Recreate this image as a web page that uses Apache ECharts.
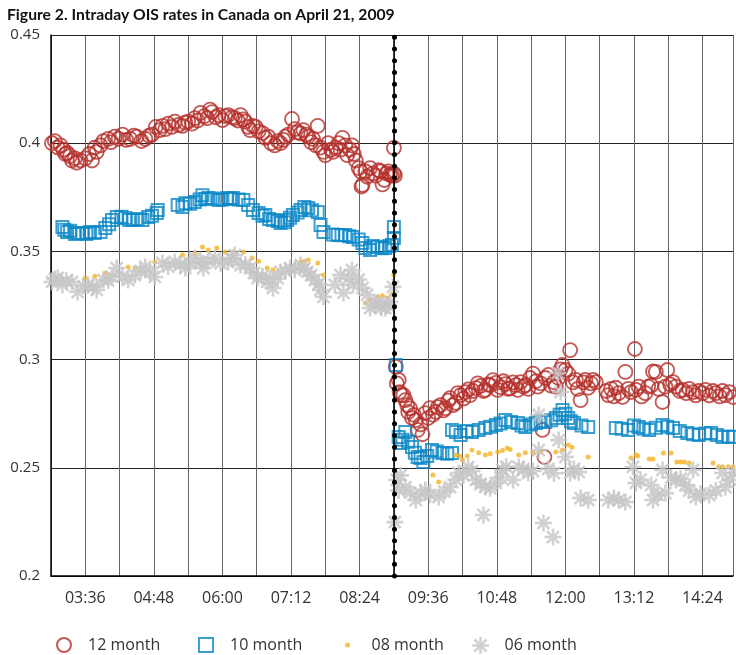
<!DOCTYPE html>
<html>
<head>
<meta charset="utf-8">
<title>Intraday OIS rates</title>
<script src="https://cdn.jsdelivr.net/npm/echarts@6/dist/echarts.min.js"></script>
<style>
  html, body { margin: 0; padding: 0; background: #fff; }
  #chart { width: 736px; height: 655px; }
</style>
</head>
<body>
<div id="chart"></div>
<script>
// time of quote, rate (%)
var month12 = [
  ['03:01',0.400],['03:04',0.401],['03:07',0.398],['03:10',0.399],['03:13',0.397],['03:15',0.395],
  ['03:17',0.3955],['03:20',0.394],['03:22',0.392],['03:25',0.393],['03:27',0.391],['03:31',0.392],
  ['03:36',0.393],['03:40',0.395],['03:43',0.392],['03:46',0.398],['03:48',0.396],['03:52',0.399],
  ['03:55',0.401],['04:00',0.402],['04:03',0.4005],['04:07',0.403],['04:11',0.402],['04:15',0.404],
  ['04:19',0.4015],['04:23',0.402],['04:27',0.4035],['04:30',0.403],['04:35',0.401],['04:39',0.402],
  ['04:43',0.4035],['04:46',0.404],['04:50',0.4075],['04:54',0.406],['04:57',0.408],['05:00',0.4065],
  ['05:03',0.409],['05:07',0.4075],['05:10',0.410],['05:14',0.4085],['05:18',0.408],['05:21',0.4095],
  ['05:24',0.410],['05:28',0.409],['05:31',0.4116],['05:34',0.4105],['05:37',0.414],['05:41',0.4125],
  ['05:44',0.4116],['05:47',0.4155],['05:49',0.4144],['05:53',0.412],['05:56',0.413],['06:00',0.4107],
  ['06:03',0.4125],['06:06',0.413],['06:10',0.412],['06:13',0.4116],['06:16',0.4105],['06:19',0.413],
  ['06:22',0.411],['06:24',0.410],['06:27',0.4075],['06:29',0.406],['06:32',0.408],['06:35',0.4075],
  ['06:38',0.4055],['06:42',0.4047],['06:45',0.4025],['06:48',0.403],['06:51',0.400],['06:55',0.399],
  ['06:58',0.401],['07:01',0.400],['07:04',0.4015],['07:06',0.403],['07:09',0.404],['07:13',0.4112],
  ['07:16',0.4065],['07:19',0.405],['07:22',0.4045],['07:25',0.406],['07:28',0.404],['07:30',0.403],
  ['07:33',0.4005],['07:35',0.402],['07:38',0.399],['07:40',0.408],['07:43',0.398],['07:46',0.396],
  ['07:48',0.3945],['07:51',0.400],['07:54',0.397],['07:56',0.396],['07:59',0.398],['08:02',0.400],
  ['08:04',0.397],['08:06',0.4025],['08:09',0.399],['08:11',0.3945],['08:14',0.397],['08:16',0.399],
  ['08:18',0.395],['08:20',0.392],['08:23',0.3885],['08:25',0.387],['08:26',0.380],['08:27',0.3807],
  ['08:30',0.387],['08:32',0.3845],['08:35',0.3885],['08:38',0.386],['08:41',0.385],['08:44',0.3875],
  ['08:46',0.387],['08:48',0.381],['08:50',0.383],['08:52',0.386],['08:54',0.387],['08:56',0.3855],
  ['08:58',0.385],['09:00',0.3978],['09:00',0.386],['09:01',0.385],
  ['09:02',0.2966],['09:03',0.289],['09:05',0.2906],['09:06',0.285],['09:08',0.2836],['09:10',0.2836],
  ['09:12',0.2813],['09:14',0.279],['09:15',0.2758],['09:17',0.2775],['09:19',0.273],['09:21',0.2745],
  ['09:23',0.272],['09:25',0.2675],['09:28',0.270],['09:30',0.2655],['09:33',0.2753],['09:36',0.273],
  ['09:38',0.2776],['09:41',0.2745],['09:44',0.2758],['09:46',0.278],['09:49',0.279],['09:52',0.2765],
  ['09:54',0.2776],['09:57',0.281],['09:59',0.2822],['10:02',0.279],['10:05',0.280],['10:07',0.2845],
  ['10:10',0.2836],['10:13',0.282],['10:15',0.285],['10:18',0.2862],['10:20',0.2836],['10:23',0.2855],
  ['10:26',0.2868],['10:28',0.289],['10:31',0.2878],['10:34',0.2855],['10:36',0.286],['10:39',0.2885],
  ['10:41',0.2882],['10:44',0.2905],['10:47',0.2892],['10:49',0.286],['10:52',0.2873],['10:55',0.290],
  ['10:57',0.2887],['11:00',0.2865],['11:02',0.2868],['11:05',0.2895],['11:08',0.2882],['11:10',0.286],
  ['11:13',0.2896],['11:16',0.2875],['11:18',0.2882],['11:21',0.2865],['11:23',0.2915],['11:26',0.2935],
  ['11:29',0.290],['11:31',0.2875],['11:34',0.289],['11:36',0.2675],['11:38',0.255],['11:39',0.2915],
  ['11:42',0.2929],['11:45',0.288],['11:48',0.2896],['11:50',0.2875],['11:53',0.2915],['11:55',0.2955],
  ['11:57',0.2975],['12:00',0.2952],['12:03',0.2935],['12:05',0.3044],['12:08',0.2895],['12:11',0.2906],
  ['12:13',0.2865],['12:16',0.2813],['12:19',0.2895],['12:21',0.2906],['12:24',0.287],['12:27',0.289],
  ['12:29',0.2906],['12:32',0.2896],['12:43',0.2855],['12:45',0.2836],['12:48',0.2865],['12:51',0.283],
  ['12:53',0.287],['12:56',0.2845],['13:00',0.2827],['13:03',0.2943],['13:06',0.2865],['13:09',0.285],
  ['13:13',0.3049],['13:14',0.286],['13:17',0.2875],['13:20',0.283],['13:24',0.2845],['13:27',0.2875],
  ['13:30',0.288],['13:32',0.2945],['13:35',0.2943],['13:38',0.2865],['13:42',0.2804],['13:45',0.2875],
  ['13:47',0.2952],['13:50',0.2885],['13:53',0.2896],['13:56',0.2875],['14:00',0.2855],['14:03',0.286],
  ['14:07',0.2845],['14:10',0.2865],['14:14',0.285],['14:17',0.2835],['14:20',0.2855],['14:24',0.2845],
  ['14:27',0.286],['14:31',0.2835],['14:35',0.2855],['14:38',0.2845],['14:42',0.283],['14:45',0.2855],
  ['14:48',0.2836],['14:52',0.285],['14:56',0.2827]
];

var month10 = [
  ['03:12',0.3613],['03:14',0.360],['03:17',0.359],['03:20',0.3595],['03:25',0.358],['03:28',0.3585],
  ['03:33',0.3585],['03:37',0.358],['03:41',0.359],['03:46',0.3585],['03:52',0.359],['03:57',0.3608],
  ['04:01',0.3625],['04:04',0.3645],['04:09',0.3659],['04:14',0.366],['04:18',0.3654],['04:22',0.3645],
  ['04:26',0.3645],['04:31',0.365],['04:36',0.3645],['04:42',0.3659],['04:46',0.3665],['04:51',0.3677],
  ['04:52',0.3691],
  ['05:13',0.3714],['05:18',0.3705],['05:21',0.3723],['05:26',0.372],['05:31',0.3728],['05:36',0.374],
  ['05:39',0.376],['05:42',0.3742],['05:45',0.3747],['05:50',0.3745],['05:56',0.3737],['06:00',0.374],
  ['06:05',0.3747],['06:08',0.3742],['06:11',0.3747],['06:17',0.374],['06:22',0.3737],['06:27',0.3714],
  ['06:32',0.3691],['06:38',0.3677],['06:42',0.3665],['06:45',0.3668],['06:49',0.365],['06:53',0.3645],
  ['06:58',0.364],['07:01',0.3631],['07:05',0.3635],['07:08',0.3645],['07:11',0.3655],['07:14',0.3668],
  ['07:19',0.368],['07:22',0.3691],['07:26',0.3705],['07:30',0.370],['07:34',0.369],['07:40',0.3682],
  ['07:43',0.3622],['07:46',0.359],
  ['07:56',0.3578],['08:01',0.3576],['08:05',0.3575],['08:09',0.3576],['08:13',0.357],['08:17',0.3567],
  ['08:23',0.3555],['08:27',0.3539],['08:30',0.3516],['08:35',0.3506],['08:38',0.3525],['08:43',0.352],
  ['08:47',0.3515],['08:51',0.3516],['08:55',0.3525],['08:58',0.353],['09:00',0.3562],['09:00',0.3613],
  ['09:02',0.2975],['09:05',0.2642],['09:07',0.2615],['09:09',0.263],['09:12',0.2665],['09:15',0.262],
  ['09:19',0.2596],['09:22',0.257],['09:25',0.255],['09:28',0.2545],['09:31',0.2527],['09:35',0.2555],
  ['09:40',0.2582],['09:45',0.2575],['09:51',0.2568],['09:56',0.2565],['10:01',0.2568],['10:01',0.2675],
  ['10:05',0.2665],['10:10',0.2652],['10:16',0.267],['10:22',0.2665],['10:29',0.2675],['10:36',0.2684],
  ['10:41',0.269],['10:47',0.2698],['10:52',0.2705],['10:57',0.2721],['11:03',0.2712],['11:10',0.2707],
  ['11:14',0.2695],['11:18',0.2689],['11:24',0.270],['11:29',0.2707],['11:34',0.2715],['11:39',0.2712],
  ['11:45',0.272],['11:50',0.273],['11:54',0.2745],['11:57',0.2767],['12:00',0.275],['12:03',0.273],
  ['12:06',0.2715],['12:09',0.2707],['12:17',0.2695],['12:24',0.2689],
  ['12:53',0.2684],['12:59',0.268],['13:06',0.2675],['13:12',0.2695],['13:17',0.2689],['13:22',0.268],
  ['13:28',0.2675],['13:35',0.2685],['13:42',0.2698],['13:47',0.269],['13:53',0.2684],['14:00',0.267],
  ['14:08',0.2661],['14:14',0.2655],['14:20',0.2652],['14:27',0.2658],['14:33',0.2661],['14:39',0.2652],
  ['14:45',0.2642],['14:51',0.2645],['14:56',0.2642]
];

var month08 = [
  ['03:36',0.3377],['03:46',0.3385],['03:57',0.340],['04:21',0.3428],['04:28',0.3423],['04:49',0.3451],
  ['05:18',0.3483],['05:31',0.349],['05:39',0.352],['05:45',0.3506],['05:54',0.3516],['06:03',0.3497],
  ['06:11',0.3497],['06:22',0.3497],['06:31',0.3469],['06:38',0.3455],['06:47',0.3423],['06:53',0.3414],
  ['07:22',0.3451],['07:26',0.3455],['07:30',0.346],['07:40',0.3446],['07:46',0.3391],
  ['08:30',0.3262],['08:35',0.3275],['08:43',0.329],['08:48',0.3295],['08:53',0.3285],['08:58',0.3303],
  ['09:00',0.3391],
  ['09:02',0.2397],['09:41',0.2467],['09:47',0.2434],['10:05',0.2559],['10:09',0.2555],['10:12',0.2536],
  ['10:17',0.2555],['10:22',0.2582],['10:29',0.257],['10:36',0.2559],['10:41',0.2565],['10:49',0.2573],
  ['10:54',0.258],['10:59',0.2592],['11:02',0.2585],['11:11',0.2559],['11:18',0.257],['11:26',0.2568],
  ['11:34',0.2575],['11:50',0.2573],['11:57',0.2582],['12:03',0.2605],['12:07',0.2595],['12:24',0.255],
  ['13:09',0.2545],['13:14',0.256],['13:16',0.2555],['13:28',0.2541],['13:32',0.2541],['13:43',0.2568],
  ['13:51',0.2568],['13:57',0.2527],['14:01',0.2527],['14:05',0.2527],['14:10',0.2522],['14:35',0.2522],
  ['14:41',0.2505],['14:45',0.2504],['14:51',0.2505],['14:56',0.2504]
];

var month06 = [
  ['03:01',0.3359],['03:04',0.3372],['03:07',0.3377],['03:12',0.3345],['03:16',0.3365],['03:22',0.3359],
  ['03:28',0.3312],['03:34',0.334],['03:39',0.3345],['03:44',0.3335],['03:48',0.3322],['03:55',0.3368],
  ['04:00',0.3365],['04:04',0.3382],['04:09',0.3423],['04:15',0.3385],['04:21',0.3368],['04:28',0.3391],
  ['04:34',0.341],['04:39',0.3428],['04:44',0.3405],['04:49',0.3382],['04:57',0.3446],['05:03',0.343],
  ['05:10',0.3451],['05:16',0.344],['05:21',0.3423],['05:26',0.3445],['05:31',0.3469],['05:37',0.345],
  ['05:40',0.3423],['05:45',0.3455],['05:52',0.3469],['05:58',0.3445],['06:06',0.3451],['06:10',0.3465],
  ['06:13',0.3483],['06:19',0.3437],['06:24',0.344],['06:29',0.3423],['06:33',0.340],['06:37',0.3377],
  ['06:42',0.3385],['06:47',0.3359],['06:50',0.3372],['06:53',0.3331],['06:58',0.3375],['07:01',0.3405],
  ['07:06',0.341],['07:11',0.3423],['07:16',0.3415],['07:22',0.3437],['07:26',0.342],['07:29',0.3405],
  ['07:33',0.339],['07:37',0.3368],['07:41',0.335],['07:43',0.3322],['07:46',0.329],
  ['07:58',0.3345],['08:04',0.3391],['08:07',0.3308],['08:12',0.3375],['08:16',0.3414],['08:17',0.3345],
  ['08:23',0.337],['08:27',0.3331],['08:32',0.3299],['08:35',0.3238],['08:40',0.3255],['08:43',0.3262],
  ['08:47',0.324],['08:51',0.3238],['08:54',0.325],['08:56',0.3266],['08:59',0.3336],
  ['09:01',0.2249],['09:03',0.2444],['09:05',0.2395],['09:07',0.2465],['09:12',0.2411],['09:17',0.2385],
  ['09:23',0.2351],['09:28',0.238],['09:33',0.2397],['09:38',0.2375],['09:47',0.2365],['09:53',0.239],
  ['09:59',0.2411],['10:05',0.2445],['10:08',0.2476],['10:13',0.2465],['10:18',0.2504],['10:22',0.2485],
  ['10:26',0.2444],['10:31',0.2425],['10:34',0.2282],['10:36',0.2411],['10:41',0.2405],['10:47',0.243],
  ['10:52',0.2455],['10:54',0.249],['10:58',0.2505],['11:05',0.2444],['11:11',0.2504],['11:16',0.2495],
  ['11:21',0.2476],['11:26',0.2485],['11:32',0.2582],['11:32',0.2744],['11:37',0.2245],['11:42',0.2495],
  ['11:47',0.2180],['11:48',0.2475],['11:52',0.2938],['11:53',0.2628],['11:55',0.285],['12:00',0.255],
  ['12:05',0.2476],['12:09',0.2495],['12:14',0.248],['12:16',0.236],['12:24',0.2351],
  ['12:45',0.2351],['12:51',0.236],['12:56',0.2351],['13:03',0.2342],['13:11',0.2504],['13:14',0.243],
  ['13:19',0.2445],['13:30',0.242],['13:32',0.2351],['13:37',0.2375],['13:42',0.249],['13:45',0.2383],
  ['13:51',0.2455],['13:56',0.2444],['14:01',0.245],['14:06',0.242],['14:10',0.2395],['14:14',0.249],
  ['14:17',0.2365],['14:22',0.238],['14:31',0.2374],['14:38',0.2395],['14:45',0.2476],['14:48',0.2411],
  ['14:53',0.2445],['14:56',0.2476]
];

var tickLabels = ['03:36','04:48','06:00','07:12','08:24','09:36','10:48','12:00','13:12','14:24'];
var announcement = '09:00';

function toMin(s) {
  var p = s.split(':');
  return +p[0] * 60 + +p[1];
}
function toClock(m) {
  var h = Math.floor(m / 60), mm = Math.round(m % 60);
  return (h < 10 ? '0' : '') + h + ':' + (mm < 10 ? '0' : '') + mm;
}
function pts(list) {
  return list.map(function (d) { return [toMin(d[0]), d[1]]; });
}

var asterisk = 'path://M0 8.5L20 8.5L20 11.5L0 11.5Z' +
  'M8.5 0L11.5 0L11.5 20L8.5 20Z' +
  'M1.87 3.99L3.99 1.87L18.13 16.01L16.01 18.13Z' +
  'M1.87 16.01L16.01 1.87L18.13 3.99L3.99 18.13Z';
var square = 'path://M0 0L10 0L10 10L0 10Z';

var font = 'Open Sans';
var legendText = { fontSize: 16, color: '#333', fontFamily: font };
function legendAt(name, left, h, icon) {
  var item = { name: name };
  if (icon) item.icon = icon;
  return { data: [item], left: left, top: 637, padding: 0, itemWidth: 38, itemHeight: h,
    symbolKeepAspect: true, textStyle: legendText };
}

var chart = echarts.init(document.getElementById('chart'));
chart.setOption({
  animation: false,
  title: {
    text: 'Figure 2. Intraday OIS rates in Canada on April 21, 2009',
    left: 7, top: 7, padding: 0,
    textStyle: { fontSize: 15.7, fontWeight: 'bold', color: '#111', fontFamily: 'Lato' }
  },
  grid: { left: 51, right: 0, top: 35, bottom: 79 },
  legend: [
    legendAt('12 month', 56, 14),
    legendAt('10 month', 198, 14, square),
    legendAt('08 month', 345, 5),
    legendAt('06 month', 472, 17)
  ],
  xAxis: [
    {
      // the plot is cut at the right edge a few minutes before 15:00
      type: 'value', min: 180, max: 896, interval: 36,
      axisLine: { lineStyle: { color: '#000', width: 1.5 } },
      axisTick: { show: false },
      splitLine: { show: true, lineStyle: { color: '#666', width: 1 } },
      axisLabel: {
        margin: 14, fontSize: 16, color: '#333', fontFamily: font,
        formatter: function (v) {
          var s = toClock(v);
          return tickLabels.indexOf(s) >= 0 ? s : '';
        }
      }
    },
    {
      // top frame line only
      type: 'value', position: 'top', min: 180, max: 896,
      axisLine: { show: true, lineStyle: { color: '#222', width: 1 } },
      axisTick: { show: false }, axisLabel: { show: false }, splitLine: { show: false }
    }
  ],
  yAxis: {
    type: 'value', min: 0.2, max: 0.45, interval: 0.05,
    axisLine: { show: true, lineStyle: { color: '#000', width: 1.5 } },
    axisTick: { show: false },
    splitLine: { show: true, lineStyle: { color: '#222', width: 1 } },
    axisLabel: { margin: 11, fontSize: 15, color: '#333', fontFamily: font }
  },
  series: [
    {
      name: '12 month', type: 'scatter', data: pts(month12),
      symbol: 'circle', symbolSize: 14,
      itemStyle: { color: 'rgba(255,255,255,0)', borderColor: '#b5302a', borderWidth: 1.8 }
    },
    {
      name: '10 month', type: 'scatter', data: pts(month10),
      symbol: 'rect', symbolSize: 12, symbolKeepAspect: true,
      itemStyle: { color: 'rgba(255,255,255,0)', borderColor: '#0b87c7', borderWidth: 2 }
    },
    {
      name: '08 month', type: 'scatter', data: pts(month08),
      symbol: 'circle', symbolSize: 5,
      itemStyle: { color: '#f4b325' }
    },
    {
      name: '06 month', type: 'scatter', data: pts(month06),
      symbol: asterisk, symbolSize: 17, symbolKeepAspect: true,
      itemStyle: { color: '#c6c6c8' },
      markLine: {
        silent: true, symbol: 'none', z: 10,
        label: { show: false },
        data: [
          { xAxis: toMin(announcement), lineStyle: { color: '#000', width: 1.5, type: 'solid' } },
          { xAxis: toMin(announcement), lineStyle: { color: '#000', width: 5, type: [0.01, 11.7], cap: 'round' } }
        ]
      }
    }
  ]
});
</script>
</body>
</html>
